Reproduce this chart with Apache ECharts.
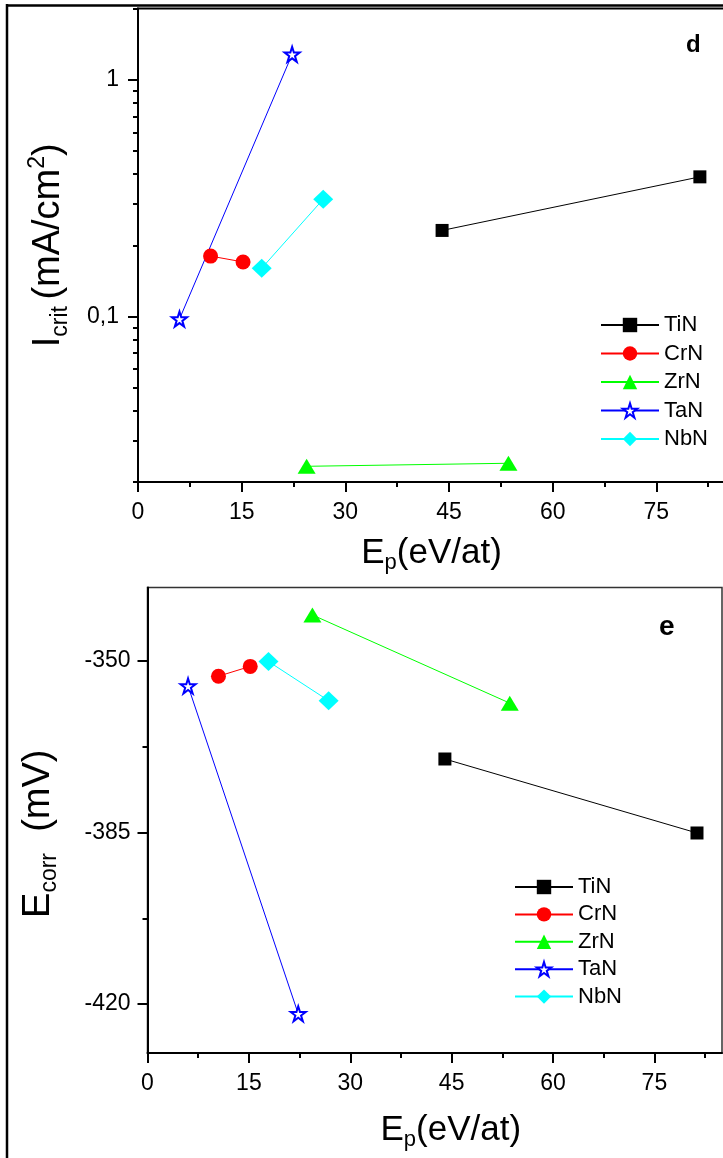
<!DOCTYPE html>
<html>
<head>
<meta charset="utf-8">
<script src="https://cdn.jsdelivr.net/npm/echarts@6/dist/echarts.min.js"></script>
<style>
html,body{margin:0;padding:0;background:#fff;}
#chart{width:723px;height:1158px;}
</style>
</head>
<body>
<div id="chart"></div>
<script>
// ---- data ----
const materials = ['TiN', 'CrN', 'ZrN', 'TaN', 'NbN'];
const epTiN = [44.0, 81.3];
const epCrN = [10.5, 15.2];
const epZrN = [24.4, 53.6];
const epTaN = [6.0, 22.3];
const epNbN = [17.9, 26.8];

const icritTiN = [0.231, 0.389];
const icritCrN = [0.180, 0.170];
const icritZrN = [0.0233, 0.0240];
const icritTaN = [0.0975, 1.28];
const icritNbN = [0.160, 0.313];

const ecorrTiN = [-370.0, -385.1];
const ecorrCrN = [-353.1, -351.1];
const ecorrZrN = [-340.6, -358.6];
const ecorrTaN = [-355.1, -422.0];
const ecorrNbN = [-350.1, -358.1];

// ticks
const xMajorTicks = [0, 15, 30, 45, 60, 75];
const xMinorTicks = [7.5, 22.5, 37.5, 52.5, 67.5, 82.5];
const icritMajorTicks = [0.1, 1];
const icritMinorTicks = [0.02, 0.03, 0.04, 0.05, 0.06, 0.07, 0.08, 0.09, 0.2, 0.3, 0.4, 0.5, 0.6, 0.7, 0.8, 0.9, 2];
const ecorrMajorTicks = [-420, -385, -350];
const ecorrMinorTicks = [-402.5, -367.5];

const FONT = '"Liberation Sans", Arial, sans-serif';
const STAR = 'path://M0,-10 L2.245,-3.09 L9.511,-3.09 L3.633,1.18 L5.878,8.09 L0,3.82 L-5.878,8.09 L-3.633,1.18 L-9.511,-3.09 L-2.245,-3.09 Z';

const styles = {
  TiN: {symbol: 'rect', size: 13, color: '#000000', fill: '#000000'},
  CrN: {symbol: 'circle', size: 15, color: '#ff0000', fill: '#ff0000'},
  ZrN: {symbol: 'triangle', size: [18, 15], color: '#00ff00', fill: '#00ff00'},
  TaN: {symbol: STAR, size: [15, 15], color: '#0000ff', fill: '#ffffff', border: 2},
  NbN: {symbol: 'diamond', size: [20, 19], color: '#00ffff', fill: '#00ffff'}
};

const ep = {TiN: epTiN, CrN: epCrN, ZrN: epZrN, TaN: epTaN, NbN: epNbN};
const icrit = {TiN: icritTiN, CrN: icritCrN, ZrN: icritZrN, TaN: icritTaN, NbN: icritNbN};
const ecorr = {TiN: ecorrTiN, CrN: ecorrCrN, ZrN: ecorrZrN, TaN: ecorrTaN, NbN: ecorrNbN};

function mkSeries(name, xs, ys, gridIdx) {
  const s = styles[name];
  return {
    type: 'line', name: name,
    xAxisIndex: gridIdx * 2, yAxisIndex: gridIdx * 2,
    data: xs.map((x, i) => [x, ys[i]]),
    symbol: s.symbol, symbolSize: s.size, symbolKeepAspect: false,
    showAllSymbol: true,
    lineStyle: {color: s.color, width: 1},
    itemStyle: {color: s.fill, borderColor: s.color, borderWidth: s.border || 0},
    emphasis: {disabled: true},
    z: 5
  };
}

const series = [];
materials.forEach(m => series.push(mkSeries(m, ep[m], icrit[m], 0)));
materials.forEach(m => series.push(mkSeries(m, ep[m], ecorr[m], 1)));

const labelStyle = {color: '#000', fontFamily: FONT, fontSize: 23};
const richTitle = {
  m: {fontSize: 38, fontFamily: FONT, color: '#000', lineHeight: 46, verticalAlign: 'middle'},
  s: {fontSize: 23, fontFamily: FONT, color: '#000', lineHeight: 46, verticalAlign: 'bottom'},
  p: {fontSize: 23, fontFamily: FONT, color: '#000', lineHeight: 46, verticalAlign: 'top'}
};
const richX = {
  m: {fontSize: 35, fontFamily: FONT, color: '#000', lineHeight: 42, verticalAlign: 'middle'},
  s: {fontSize: 22, fontFamily: FONT, color: '#000', lineHeight: 42, verticalAlign: 'bottom'}
};

function xAxes(gridIdx, max, namePad, nameGap) {
  return [
    {
      type: 'value', gridIndex: gridIdx, min: 0, max: max, position: 'bottom',
      name: '{m|E}{s|p}{m|(eV/at)}', nameLocation: 'middle', nameGap: nameGap,
      nameTextStyle: {rich: richX, padding: namePad},
      axisLine: {show: true, onZero: false, lineStyle: {color: '#000', width: 2}},
      axisTick: {show: true, length: 10, lineStyle: {color: '#000', width: 2}, customValues: xMajorTicks},
      axisLabel: Object.assign({show: true, margin: 19, customValues: xMajorTicks}, labelStyle),
      splitLine: {show: false}
    },
    {
      type: 'value', gridIndex: gridIdx, min: 0, max: max, position: 'bottom', offset: 0,
      axisLine: {show: false, onZero: false},
      axisTick: {show: true, length: 5, lineStyle: {color: '#000', width: 2}, customValues: xMinorTicks},
      axisLabel: {show: false},
      splitLine: {show: false}
    }
  ];
}

const legendText = {fontSize: 22, fontFamily: FONT, color: '#000'};

const option = {
  animation: false,
  backgroundColor: '#ffffff',
  grid: [
    {left: 138, top: 8.5, width: 622, height: 473.5, show: true, borderColor: '#000', borderWidth: 2,
     containLabel: false, outerBoundsMode: 'none'},
    {left: 147.5, top: 587.5, right: 1, bottom: 105, show: true, borderColor: '#333', borderWidth: 1.5,
     containLabel: false, outerBoundsMode: 'none'}
  ],
  xAxis: xAxes(0, 90, [0, 35, 0, 0], 50).concat(xAxes(1, 85, [0, 0, 0, 32], 56)),
  yAxis: [
    {
      type: 'log', logBase: 10, gridIndex: 0, min: 0.02, max: 2, position: 'left',
      name: '{m|I}{s|crit}{s| }{m|(mA/cm}{p|2}{m|)}', nameLocation: 'middle', nameGap: 66, nameRotate: 90,
      nameTextStyle: {rich: richTitle},
      axisLine: {show: true, onZero: false, lineStyle: {color: '#000', width: 2}},
      axisTick: {show: true, length: 10, lineStyle: {color: '#000', width: 2}, customValues: icritMajorTicks},
      axisLabel: Object.assign({show: true, margin: 19, customValues: icritMajorTicks,
        formatter: v => String(v).replace('.', ',')}, labelStyle),
      splitLine: {show: false}, minorTick: {show: false}
    },
    {
      type: 'log', logBase: 10, gridIndex: 0, min: 0.02, max: 2, position: 'left', offset: 0,
      axisLine: {show: false, onZero: false},
      axisTick: {show: true, length: 5, lineStyle: {color: '#000', width: 2}, customValues: icritMinorTicks},
      axisLabel: {show: false},
      splitLine: {show: false}
    },
    {
      type: 'value', gridIndex: 1, min: -430, max: -335, position: 'left',
      name: '{m|E}{s|corr}{m|  (mV)}', nameLocation: 'middle', nameGap: 86, nameRotate: 90,
      nameTextStyle: {rich: richTitle, padding: [0, 27, 0, 0]},
      axisLine: {show: true, onZero: false, lineStyle: {color: '#000', width: 2}},
      axisTick: {show: true, length: 10, lineStyle: {color: '#000', width: 2}, customValues: ecorrMajorTicks},
      axisLabel: Object.assign({show: true, margin: 17, customValues: ecorrMajorTicks}, labelStyle),
      splitLine: {show: false}
    },
    {
      type: 'value', gridIndex: 1, min: -430, max: -335, position: 'left', offset: 0,
      axisLine: {show: false, onZero: false},
      axisTick: {show: true, length: 5, lineStyle: {color: '#000', width: 2}, customValues: ecorrMinorTicks},
      axisLabel: {show: false},
      splitLine: {show: false}
    }
  ],
  legend: [
    {
      data: materials, orient: 'vertical', left: 600, top: 314, padding: 0,
      itemWidth: 58, itemHeight: 18, itemGap: 6.5, selectedMode: false,
      textStyle: legendText
    },
    {
      data: materials, orient: 'vertical', left: 514, top: 876, padding: 0,
      itemWidth: 58, itemHeight: 18, itemGap: 5.4, selectedMode: false,
      textStyle: legendText
    }
  ],
  graphic: [
    {type: 'line', shape: {x1: 7, y1: 4, x2: 7, y2: 1158}, style: {stroke: '#000', lineWidth: 2.5}, silent: true},
    {type: 'line', shape: {x1: 6, y1: 5.5, x2: 723, y2: 5.5}, style: {stroke: '#000', lineWidth: 2.5}, silent: true},
    {type: 'text', left: 686, top: 33, style: {text: 'd', font: 'bold 24px ' + FONT, fill: '#000'}, silent: true},
    {type: 'text', left: 659, top: 613, style: {text: 'e', font: 'bold 28px ' + FONT, fill: '#000'}, silent: true}
  ],
  series: series
};

const chart = echarts.init(document.getElementById('chart'), null, {renderer: 'canvas'});
chart.setOption(option);
</script>
</body>
</html>
